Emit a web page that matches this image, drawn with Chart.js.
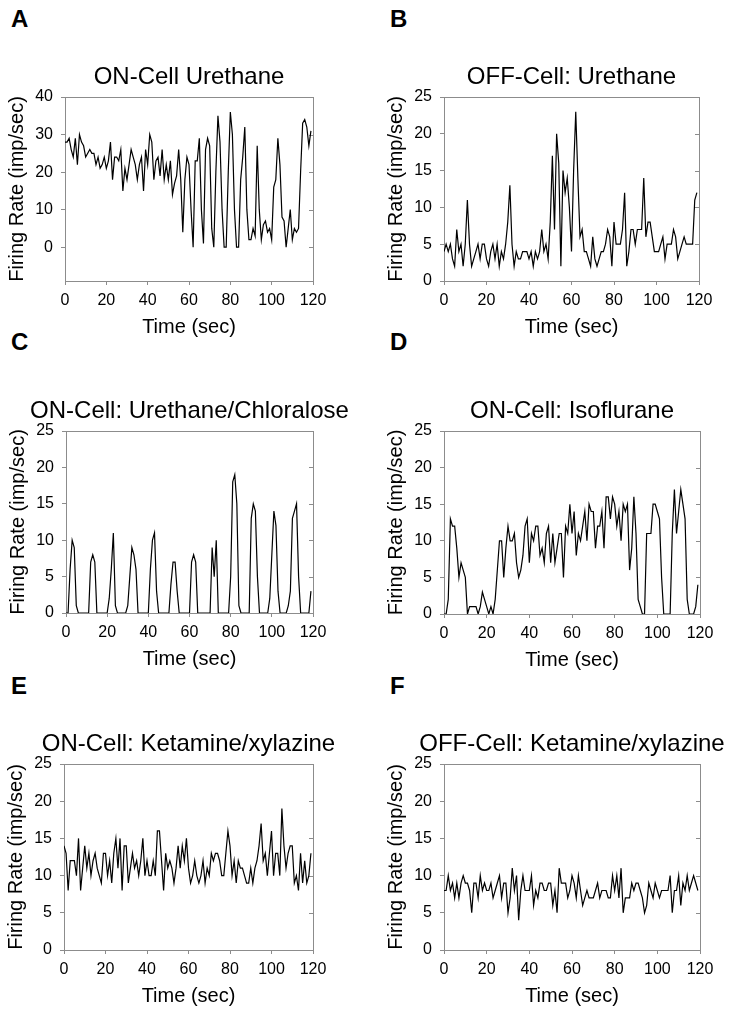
<!DOCTYPE html>
<html lang="en">
<head>
<meta charset="UTF-8">
<title>Firing Rate Panels</title>
<style>
    body {
        margin: 0;
        background: #fff;
    }
    #page {
        position: relative;
        width: 750px;
        height: 1011px;
        overflow: hidden;
        font-family: "Liberation Sans", Arial, sans-serif;
    }
    .letter {
        position: absolute;
        font-size: 24px;
        font-weight: bold;
        line-height: 1;
        color: #000;
    }
    canvas {
        position: absolute;
    }
</style>
</head>
<body>
<div id="page">
    <div class="letter" style="left:11px;top:7px">A</div>
    <div class="letter" style="left:390px;top:7px">B</div>
    <div class="letter" style="left:11px;top:330px">C</div>
    <div class="letter" style="left:390px;top:330px">D</div>
    <div class="letter" style="left:11px;top:674px">E</div>
    <div class="letter" style="left:390px;top:674px">F</div>
</div>

<script src="https://cdn.jsdelivr.net/npm/chart.js"></script>
<script>
    // firing rate (imp/sec) per 1-sec bin, 0..119 sec
    const onUrethane = [
        28, 28, 29, 26, 24, 29, 22, 30, 28, 27,
        24, 25, 26, 25, 25, 22, 24, 21, 22, 24,
        21, 23, 28, 18, 24, 24, 23, 26, 15, 21,
        18, 22, 26, 24, 22, 18, 22, 24, 15, 26,
        22, 30, 28, 18, 23, 24, 19, 26, 18, 22,
        18, 23, 14, 17, 19, 26, 18, 4, 18, 24,
        22, 10, 0, 23, 23, 29, 10, 1, 26, 29,
        27, 5, 0, 20, 35, 28, 10, 0, 0, 20,
        36, 30, 10, 0, 0, 18, 24, 32, 10, 2,
        2, 5, 3, 27, 10, 2, 6, 7, 4, 5,
        2, 16, 18, 29, 22, 8, 7, 0, 5, 10,
        2, 5, 4, 5, 20, 33, 34, 32, 27, 31
    ];
    const offUrethane = [
        4, 5, 4, 5, 3, 2, 7, 4, 5, 2,
        5, 11, 5, 2, 3, 4, 5, 3, 5, 5,
        3, 2, 4, 5, 3, 5, 2, 4, 3, 5,
        8, 13, 5, 2, 4, 3, 3, 4, 4, 4,
        3, 4, 2, 4, 3, 4, 7, 4, 5, 3,
        8, 17, 7, 20, 16, 2, 15, 12, 14, 10,
        4, 15, 23, 14, 6, 7, 4, 4, 3, 2,
        6, 3, 2, 3, 4, 4, 5, 7, 6, 2,
        8, 5, 5, 5, 7, 12, 2, 4, 7, 7,
        5, 7, 7, 7, 14, 6, 8, 8, 6, 4,
        4, 4, 5, 6, 3, 5, 5, 5, 7, 6,
        3, 4, 5, 6, 5, 5, 5, 5, 11, 12
    ];
    const onChloralose = [
        0, 0, 6, 10, 9, 1, 0, 0, 0, 0,
        0, 0, 7, 8, 7, 0, 0, 0, 0, 0,
        0, 2, 6, 11, 1, 0, 0, 0, 0, 0,
        1, 5, 9, 8, 6, 0, 0, 0, 0, 0,
        0, 6, 10, 11, 3, 0, 0, 0, 0, 0,
        0, 4, 7, 7, 3, 0, 0, 0, 0, 0,
        0, 7, 8, 7, 0, 0, 0, 0, 0, 0,
        0, 9, 5, 10, 0, 0, 0, 0, 0, 0,
        5, 18, 19, 15, 1, 0, 0, 0, 0, 0,
        13, 15, 14, 5, 0, 0, 0, 0, 0, 2,
        8, 14, 12, 3, 0, 0, 0, 0, 1, 3,
        13, 14, 15, 5, 0, 0, 0, 0, 0, 3
    ];
    const onIsoflurane = [
        0, 0, 2, 13, 12, 12, 9, 5, 7, 6,
        5, 0, 1, 1, 1, 1, 0, 1, 3, 2,
        1, 0, 1, 0, 2, 6, 10, 10, 5, 9,
        12, 10, 10, 11, 7, 5, 6, 8, 12, 13,
        7, 11, 10, 12, 12, 8, 9, 7, 11, 12,
        7, 11, 7, 9, 11, 11, 5, 12, 11, 15,
        11, 14, 8, 11, 10, 12, 14, 10, 15, 14,
        14, 9, 12, 12, 14, 9, 16, 16, 13, 16,
        15, 12, 14, 10, 15, 14, 15, 6, 9, 16,
        11, 2, 1, 0, 0, 11, 11, 11, 15, 15,
        14, 13, 5, 0, 0, 0, 0, 11, 17, 11,
        14, 17, 15, 13, 2, 0, 0, 0, 1, 4
    ];
    const onKetamine = [
        14, 13, 8, 12, 12, 12, 10, 15, 8, 11,
        14, 11, 13, 10, 12, 13, 11, 10, 9, 13,
        13, 10, 12, 9, 13, 15, 11, 15, 8, 14,
        14, 9, 11, 13, 11, 12, 10, 12, 15, 10,
        12, 10, 10, 12, 10, 16, 16, 12, 8, 13,
        11, 12, 11, 9, 11, 14, 11, 14, 12, 15,
        11, 9, 10, 12, 10, 9, 10, 12, 9, 11,
        10, 13, 12, 13, 13, 12, 10, 10, 13, 16,
        14, 10, 12, 9, 12, 11, 11, 10, 9, 9,
        11, 9, 11, 12, 14, 17, 12, 13, 10, 13,
        16, 10, 13, 13, 10, 19, 14, 11, 13, 14,
        14, 9, 10, 8, 13, 9, 12, 9, 10, 13
    ];
    const offKetamine = [
        8, 8, 10, 8, 9, 7, 9, 7, 9, 10,
        9, 9, 8, 5, 9, 9, 7, 10, 8, 9,
        8, 8, 9, 7, 8, 9, 10, 7, 9, 9,
        5, 7, 11, 8, 10, 4, 8, 10, 8, 8,
        8, 10, 6, 8, 7, 9, 9, 8, 8, 9,
        9, 6, 8, 5, 11, 9, 9, 9, 7, 8,
        10, 9, 7, 10, 8, 6, 7, 8, 7, 7,
        7, 8, 9, 7, 8, 8, 8, 7, 7, 10,
        8, 10, 7, 11, 5, 7, 7, 7, 9, 8,
        9, 9, 8, 7, 5, 6, 9, 8, 7, 9,
        8, 7, 8, 8, 8, 8, 10, 5, 8, 8,
        10, 6, 9, 8, 10, 8, 9, 10, 9, 8
    ];

    const panelTitles = [
        'ON-Cell Urethane',
        'OFF-Cell: Urethane',
        'ON-Cell: Urethane/Chloralose',
        'ON-Cell: Isoflurane',
        'ON-Cell: Ketamine/xylazine',
        'OFF-Cell: Ketamine/xylazine'
    ];
    const panelSeries = [onUrethane, offUrethane, onChloralose, onIsoflurane, onKetamine, offKetamine];
    const yRanges = [[-9, 40, 10], [0, 25, 5], [0, 25, 5], [0, 25, 5], [0, 25, 5], [0, 25, 5]];
    const timeTicks = [0, 120, 20];

    // where each plot box sits on the page: left, top, width, height
    const boxes = [
        [65, 97, 248, 184],
        [444, 97, 255, 184],
        [66, 431, 247, 182],
        [444, 431, 256, 183],
        [64, 764, 249, 186],
        [444, 764, 256, 186]
    ];

    const AXIS_W = 60, XAXIS_H = 58, TITLE_H = 34;
    const frameColor = '#8c8c8c';

    Chart.defaults.font.family = '"Liberation Sans", Arial, sans-serif';
    Chart.defaults.color = '#000';

    // grey box round the plot, with little inward ticks on the right side
    const framePlugin = {
        id: 'frame',
        beforeDatasetsDraw(chart) {
            const ctx = chart.ctx;
            const a = chart.chartArea;
            const y = chart.scales.y;
            ctx.save();
            ctx.strokeStyle = frameColor;
            ctx.lineWidth = 1;
            ctx.strokeRect(Math.round(a.left) + 0.5, Math.round(a.top) + 0.5,
                Math.round(a.right - a.left), Math.round(a.bottom - a.top));
            ctx.beginPath();
            y.ticks.forEach(t => {
                const py = Math.round(y.getPixelForValue(t.value)) + 0.5;
                ctx.moveTo(Math.round(a.right), py);
                ctx.lineTo(Math.round(a.right) - 4, py);
            });
            ctx.stroke();
            ctx.restore();
        }
    };

    function makePanel(i) {
        const [left, top, w, h] = boxes[i];
        const [yMin, yMax, yStep] = yRanges[i];

        const canvas = document.createElement('canvas');
        canvas.width = w + 2 * AXIS_W;
        canvas.height = TITLE_H + h + XAXIS_H;
        canvas.style.left = (left - AXIS_W) + 'px';
        canvas.style.top = (top - TITLE_H) + 'px';
        document.getElementById('page').appendChild(canvas);

        new Chart(canvas.getContext('2d'), {
            type: 'line',
            data: {
                datasets: [{
                    data: panelSeries[i].map((v, t) => ({ x: t, y: v })),
                    borderColor: '#000',
                    borderWidth: 1.2,
                    pointRadius: 0,
                    tension: 0,
                    fill: false
                }]
            },
            options: {
                responsive: false,
                animation: false,
                layout: { padding: 0 },
                plugins: {
                    legend: { display: false },
                    tooltip: { enabled: false },
                    title: {
                        display: true,
                        text: panelTitles[i],
                        font: { size: 24, weight: 'normal' },
                        color: '#000',
                        padding: { top: 0, bottom: 5.2 }
                    }
                },
                scales: {
                    x: {
                        type: 'linear',
                        min: timeTicks[0],
                        max: timeTicks[1],
                        ticks: { stepSize: timeTicks[2], padding: 6, font: { size: 16 }, maxRotation: 0 },
                        grid: { drawOnChartArea: false, tickLength: 4, color: frameColor },
                        border: { display: false },
                        title: { display: true, text: 'Time (sec)', font: { size: 20 }, padding: 0 },
                        afterFit: s => { s.height = XAXIS_H; }
                    },
                    y: {
                        min: yMin,
                        max: yMax,
                        ticks: { stepSize: yStep, padding: 8, font: { size: 16 } },
                        afterBuildTicks: s => { s.ticks = s.ticks.filter(t => t.value % yStep === 0); },
                        grid: { drawOnChartArea: false, tickLength: 4, color: frameColor },
                        border: { display: false },
                        title: { display: true, text: 'Firing Rate (imp/sec)', font: { size: 20 }, padding: 0 },
                        afterFit: s => { s.width = AXIS_W; }
                    },
                    // empty right-hand axis so the title stays centred over the plot
                    y2: {
                        position: 'right',
                        min: yMin,
                        max: yMax,
                        ticks: { display: false },
                        grid: { display: false },
                        border: { display: false },
                        afterFit: s => { s.width = AXIS_W; }
                    }
                }
            },
            plugins: [framePlugin]
        });
    }

    for (let i = 0; i < boxes.length; i++) {
        makePanel(i);
    }
</script>
</body>
</html>
